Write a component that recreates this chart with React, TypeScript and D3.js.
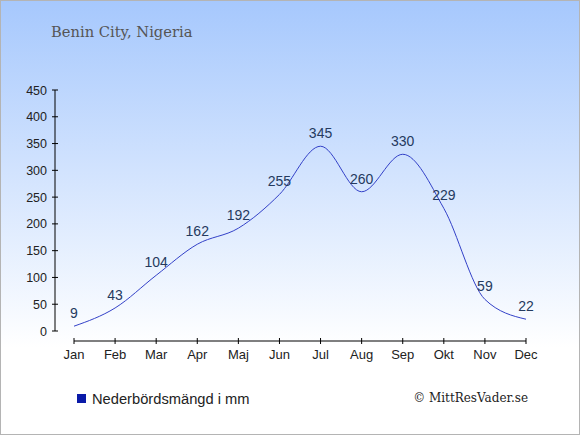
import React, { useEffect, useRef } from "react";
import * as d3 from "d3";

const months = ["Jan", "Feb", "Mar", "Apr", "Maj", "Jun", "Jul", "Aug", "Sep", "Okt", "Nov", "Dec"];
const rainfall = [9, 43, 104, 162, 192, 255, 345, 260, 330, 229, 59, 22];
const yTicks = [0, 50, 100, 150, 200, 250, 300, 350, 400, 450];

const W = 580;
const H = 435;

export default function App() {
  const ref = useRef<SVGSVGElement>(null);

  useEffect(() => {
    if (!ref.current) return;
    const svg = d3.select(ref.current);
    svg.selectAll("*").remove();

    // background gradient
    const defs = svg.append("defs");
    const grad = defs
      .append("linearGradient")
      .attr("id", "bg")
      .attr("x1", 0)
      .attr("y1", 0)
      .attr("x2", 0)
      .attr("y2", 1);
    grad.append("stop").attr("offset", "0%").attr("stop-color", "#a6c8fd");
    grad.append("stop").attr("offset", "80%").attr("stop-color", "#ffffff");
    grad.append("stop").attr("offset", "100%").attr("stop-color", "#ffffff");

    svg
      .append("rect")
      .attr("x", 0.5)
      .attr("y", 0.5)
      .attr("width", W - 1)
      .attr("height", H - 1)
      .attr("fill", "url(#bg)")
      .attr("stroke", "#b4b4b4")
      .attr("stroke-width", 1);

    const x = d3.scalePoint<string>().domain(months).range([74, 526]);
    const y = d3.scaleLinear().domain([0, 450]).range([331, 90]);

    // title
    svg
      .append("text")
      .attr("x", 51)
      .attr("y", 37)
      .attr("font-family", "'DejaVu Serif', 'Liberation Serif', serif")
      .attr("font-size", "14.7px")
      .attr("fill", "#555555")
      .text("Benin City, Nigeria");

    // y axis
    const axisX = 55;
    svg
      .append("line")
      .attr("x1", axisX)
      .attr("x2", axisX)
      .attr("y1", y(450))
      .attr("y2", y(0))
      .attr("stroke", "#000");
    svg
      .selectAll(".ytick")
      .data(yTicks)
      .enter()
      .append("line")
      .attr("x1", axisX - 3)
      .attr("x2", axisX + 3)
      .attr("y1", (d) => y(d))
      .attr("y2", (d) => y(d))
      .attr("stroke", "#000");
    svg
      .selectAll(".ylab")
      .data(yTicks)
      .enter()
      .append("text")
      .attr("x", axisX - 8)
      .attr("y", (d) => y(d) + 4.5)
      .attr("text-anchor", "end")
      .attr("font-family", "Arial, 'Liberation Sans', sans-serif")
      .attr("font-size", "12.5px")
      .attr("fill", "#222")
      .text((d) => d);

    // x axis
    const axisY = 341;
    svg
      .append("line")
      .attr("x1", x("Jan")!)
      .attr("x2", x("Dec")!)
      .attr("y1", axisY)
      .attr("y2", axisY)
      .attr("stroke", "#000");
    svg
      .selectAll(".xtick")
      .data(months)
      .enter()
      .append("line")
      .attr("x1", (d) => x(d)!)
      .attr("x2", (d) => x(d)!)
      .attr("y1", axisY - 3)
      .attr("y2", axisY + 3)
      .attr("stroke", "#000");
    svg
      .selectAll(".xlab")
      .data(months)
      .enter()
      .append("text")
      .attr("x", (d) => x(d)!)
      .attr("y", axisY + 18)
      .attr("text-anchor", "middle")
      .attr("font-family", "Arial, 'Liberation Sans', sans-serif")
      .attr("font-size", "13px")
      .attr("fill", "#222")
      .text((d) => d);

    // line
    const line = d3
      .line<number>()
      .x((_, i) => x(months[i])!)
      .y((d) => y(d))
      .curve(d3.curveMonotoneX);
    svg
      .append("path")
      .datum(rainfall)
      .attr("d", line)
      .attr("fill", "none")
      .attr("stroke", "#3341c8")
      .attr("stroke-width", 1);

    // value labels
    svg
      .selectAll(".vlab")
      .data(rainfall)
      .enter()
      .append("text")
      .attr("x", (_, i) => x(months[i])!)
      .attr("y", (d) => y(d) - 8)
      .attr("text-anchor", "middle")
      .attr("font-family", "Arial, 'Liberation Sans', sans-serif")
      .attr("font-size", "14px")
      .attr("fill", "#253a5e")
      .text((d) => d);

    // legend
    svg
      .append("rect")
      .attr("x", 77)
      .attr("y", 394)
      .attr("width", 9)
      .attr("height", 9)
      .attr("fill", "#0a1aa8");
    svg
      .append("text")
      .attr("x", 92)
      .attr("y", 404)
      .attr("font-family", "Arial, 'Liberation Sans', sans-serif")
      .attr("font-size", "14.7px")
      .attr("fill", "#222")
      .text("Nederbördsmängd i mm");

    svg
      .append("text")
      .attr("x", 528)
      .attr("y", 402)
      .attr("text-anchor", "end")
      .attr("font-family", "'DejaVu Serif', 'Liberation Serif', serif")
      .attr("font-size", "12px")
      .attr("fill", "#222")
      .text("© MittResVader.se");
  }, []);

  return (
    <svg
      ref={ref}
      width={W}
      height={H}
      style={{ position: "absolute", left: 0, top: 0 }}
    />
  );
}
